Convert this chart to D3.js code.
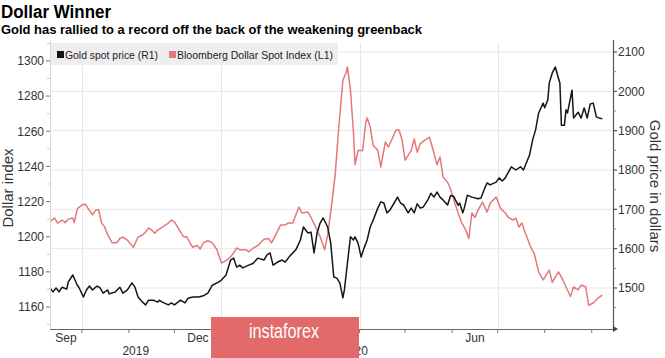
<!DOCTYPE html>
<html>
<head>
<meta charset="utf-8">
<script src="https://cdn.jsdelivr.net/npm/d3@7"></script>
<style>
  html, body { margin: 0; padding: 0; background: #fff; }
  svg { display: block; }
  text { font-family: "Liberation Sans", Arial, sans-serif; }
</style>
</head>
<body>
<svg id="chart" width="665" height="358"></svg>
<script>
// ---------------- DATA ----------------
const dollarDates = ["2019-09-10","2019-09-13","2019-09-15","2019-09-18","2019-09-20","2019-09-22","2019-09-25","2019-09-26","2019-09-28",
"2019-10-01","2019-10-03","2019-10-06","2019-10-08","2019-10-10","2019-10-12","2019-10-14","2019-10-16","2019-10-18","2019-10-21","2019-10-24","2019-10-26","2019-10-28","2019-10-31",
"2019-11-04","2019-11-07","2019-11-10","2019-11-12","2019-11-14","2019-11-16","2019-11-18","2019-11-20","2019-11-23","2019-11-27","2019-11-29",
"2019-12-01","2019-12-05","2019-12-07","2019-12-09","2019-12-13","2019-12-16","2019-12-18","2019-12-20","2019-12-23","2019-12-26","2019-12-29",
"2020-01-01","2020-01-05","2020-01-07","2020-01-09","2020-01-11","2020-01-13","2020-01-17","2020-01-19","2020-01-22","2020-01-25","2020-01-29",
"2020-02-01","2020-02-03","2020-02-05","2020-02-09","2020-02-12","2020-02-14","2020-02-17","2020-02-21","2020-02-23","2020-02-27","2020-02-29",
"2020-03-03","2020-03-06","2020-03-09","2020-03-11","2020-03-14","2020-03-16","2020-03-18","2020-03-21","2020-03-23","2020-03-24","2020-03-26","2020-03-28","2020-03-29","2020-03-31",
"2020-04-03","2020-04-05","2020-04-06","2020-04-08","2020-04-10","2020-04-13","2020-04-15","2020-04-18","2020-04-20","2020-04-23","2020-04-25","2020-04-27","2020-04-29",
"2020-05-01","2020-05-05","2020-05-07","2020-05-09","2020-05-11","2020-05-14","2020-05-17","2020-05-20","2020-05-22","2020-05-24","2020-05-26","2020-05-29","2020-05-31",
"2020-06-03","2020-06-07","2020-06-10","2020-06-12","2020-06-14","2020-06-16","2020-06-18","2020-06-21","2020-06-24","2020-06-26","2020-06-30",
"2020-07-03","2020-07-06","2020-07-08","2020-07-11","2020-07-13","2020-07-15","2020-07-17","2020-07-19","2020-07-23","2020-07-25","2020-07-28","2020-07-31",
"2020-08-04","2020-08-06","2020-08-10","2020-08-13","2020-08-16","2020-08-18","2020-08-20","2020-08-23","2020-08-25","2020-08-28","2020-08-30",
"2020-09-02","2020-09-05","2020-09-08"];
const dollarValues = [1208.5,1210.6,1207.8,1209.5,1208,1210,1210.6,1208,1216,
1218,1218.6,1215,1212.5,1215,1215.5,1207.8,1205.6,1201,1196.5,1196.5,1199,1199.8,1198,
1194,1199.8,1201,1202.7,1205,1203.8,1202,1203.8,1205.5,1207.8,1209.5,
1208.4,1202.7,1200,1200,1194,1195,1193,1196.5,1197.7,1196.5,1192.6,
1185,1187,1188.6,1190.7,1193.6,1192.6,1192.6,1191.4,1193.6,1195,1198.6,
1199,1196.5,1199.8,1206.7,1206.7,1207.8,1207.8,1216.9,1213.5,1214,1211,
1205.5,1200,1192.6,1201,1221,1236,1259,1289,1293,1296.6,1283.5,1259,1241,1249,
1249,1264.7,1267.6,1262.5,1252,1249,1239.7,1254,1251,1256.7,1260.7,1260.7,1255,
1243.6,1249,1255.6,1248,1253,1255,1256.7,1247.6,1241,1245.4,1234,1231,1227,
1218.5,1208.5,1203.8,1199,1213.5,1211,1215,1219.7,1214,1219,1222.6,
1216,1213.5,1211,1209.5,1210.6,1205.5,1207.8,1202.7,1193.6,1190.7,1180,1175.4,
1181,1174,1180,1175.4,1169.7,1166,1171.4,1169.7,1172.5,1171.4,1161,
1162.3,1165,1166.8];

const goldDates = ["2019-09-10","2019-09-12","2019-09-14","2019-09-16","2019-09-18","2019-09-21","2019-09-22","2019-09-25","2019-09-28","2019-09-29",
"2019-10-02","2019-10-04","2019-10-06","2019-10-08","2019-10-11","2019-10-13","2019-10-15","2019-10-18","2019-10-19","2019-10-23","2019-10-26","2019-10-28","2019-10-31",
"2019-11-03","2019-11-05","2019-11-07","2019-11-10","2019-11-12","2019-11-14","2019-11-17","2019-11-20","2019-11-21","2019-11-23","2019-11-27","2019-11-29",
"2019-12-01","2019-12-05","2019-12-08","2019-12-10","2019-12-13","2019-12-17","2019-12-20","2019-12-23","2019-12-26","2019-12-30",
"2020-01-01","2020-01-04","2020-01-07","2020-01-09","2020-01-11","2020-01-13","2020-01-15","2020-01-19","2020-01-22","2020-01-25","2020-01-29","2020-01-31",
"2020-02-02","2020-02-04","2020-02-07","2020-02-10","2020-02-12","2020-02-15","2020-02-19","2020-02-22","2020-02-24","2020-02-27","2020-02-29",
"2020-03-02","2020-03-04","2020-03-06","2020-03-08","2020-03-11","2020-03-13","2020-03-15","2020-03-17","2020-03-19","2020-03-21","2020-03-22","2020-03-24","2020-03-26","2020-03-28","2020-03-29","2020-03-31",
"2020-04-02","2020-04-04","2020-04-06","2020-04-08","2020-04-10","2020-04-13","2020-04-15","2020-04-17","2020-04-19","2020-04-21","2020-04-23","2020-04-26","2020-04-28","2020-04-30",
"2020-05-03","2020-05-05","2020-05-07","2020-05-09","2020-05-11","2020-05-13","2020-05-16","2020-05-18","2020-05-20","2020-05-22","2020-05-24","2020-05-26","2020-05-29","2020-05-31",
"2020-06-02","2020-06-05","2020-06-06","2020-06-08","2020-06-09","2020-06-11","2020-06-14","2020-06-18","2020-06-20","2020-06-22","2020-06-24","2020-06-26","2020-06-30",
"2020-07-02","2020-07-04","2020-07-06","2020-07-10","2020-07-13","2020-07-16","2020-07-18","2020-07-22","2020-07-24","2020-07-26","2020-07-28","2020-07-31",
"2020-08-01","2020-08-03","2020-08-04","2020-08-06","2020-08-08","2020-08-10","2020-08-11","2020-08-12","2020-08-14","2020-08-15","2020-08-16","2020-08-19","2020-08-20","2020-08-23","2020-08-25","2020-08-27","2020-08-29","2020-08-31",
"2020-09-02","2020-09-04","2020-09-06","2020-09-08"];
const goldValues = [1500,1490,1500,1490,1502,1497,1515,1533,1507,1502,
1477,1495,1505,1495,1505,1500,1487,1495,1485,1490,1502,1487,1495,
1513,1502,1477,1464,1457,1469,1469,1464,1469,1464,1457,1462,
1457,1469,1462,1474,1477,1477,1480,1487,1507,1515,
1520,1533,1571,1576,1553,1558,1551,1558,1563,1576,1571,1584,
1589,1558,1566,1571,1566,1581,1597,1622,1655,1640,1642,
1589,1640,1665,1678,1655,1614,1528,1525,1513,1475,1495,1563,1630,1622,1630,1614,
1579,1602,1622,1655,1673,1703,1719,1716,1691,1698,1711,1731,1716,1711,
1691,1703,1691,1714,1703,1706,1724,1741,1731,1744,1731,1724,1711,1735,
1733,1710,1716,1691,1703,1736,1731,1727,1729,1749,1767,1762,1769,
1780,1772,1780,1808,1800,1808,1800,1838,1876,1902,1945,1970,
1958,1978,2021,2047,2062,2034,2021,1914,1914,1953,1945,2003,1932,1947,1932,1958,1932,1968,
1970,1935,1932,1930];

const leftTicks = [1160, 1180, 1200, 1220, 1240, 1260, 1280, 1300];
const rightTicks = [1500, 1600, 1700, 1800, 1900, 2000, 2100];
// "Mar" sits under the watermark in the reference, so only visible month labels are listed
const monthLabels = ["Sep", "Dec", "Jun"];
const monthLabelStarts = ["2019-09-01", "2019-12-01", "2020-06-01"];
const yearLabels = ["2019", "2020"];
const yearStarts = ["2019-01-01", "2020-01-01"];
const seriesNames = ["Gold spot price (R1)", "Bloomberg Dollar Spot Index (L1)"];

// ---------------- LAYOUT ----------------
const parse = d3.utcParse("%Y-%m-%d");
const W = 665, H = 358;
const plot = { left: 50, right: 613, top: 43, bottom: 329 };
const pink = "#e5787a", black = "#151515";

const svg = d3.select("#chart");

const x = d3.scaleUtc()
  .domain([parse("2019-09-10"), parse("2020-09-15")])
  .range([plot.left, plot.right]);
const yL = d3.scaleLinear().domain([1147.5, 1310.2]).range([plot.bottom, plot.top]);
const yR = d3.scaleLinear().domain([1395.7, 2122.9]).range([plot.bottom, plot.top]);

// Titles
svg.append("text").attr("x", 1).attr("y", 18)
  .attr("font-size", 18).attr("font-weight", "bold").attr("fill", "#000")
  .attr("textLength", 110).attr("lengthAdjust", "spacingAndGlyphs")
  .text("Dollar Winner");
svg.append("text").attr("x", 1).attr("y", 34)
  .attr("font-size", 13).attr("font-weight", "bold").attr("fill", "#000")
  .attr("textLength", 421).attr("lengthAdjust", "spacingAndGlyphs")
  .text("Gold has rallied to a record off the back of the weakening greenback");

// Horizontal gridlines (right axis)
svg.append("g").selectAll("line").data(rightTicks).join("line")
  .attr("x1", plot.left).attr("x2", plot.right)
  .attr("y1", d => yR(d)).attr("y2", d => yR(d))
  .attr("stroke", "#e9e6ea").attr("stroke-width", 1);

// Vertical gridlines at quarter starts
const quarterStarts = d3.utcMonth.every(3).range(parse("2019-10-01"), x.domain()[1]);
svg.append("g").selectAll("line").data(quarterStarts).join("line")
  .attr("x1", d => Math.round(x(d)) + 0.5).attr("x2", d => Math.round(x(d)) + 0.5)
  .attr("y1", plot.top).attr("y2", plot.bottom)
  .attr("stroke", "#e9e6ea").attr("stroke-width", 1);

// Legend box
const legend = svg.append("g");
legend.append("rect").attr("x", plot.left).attr("y", plot.top)
  .attr("width", 288).attr("height", 22).attr("fill", "#efeeef");
const legendItems = [
  { name: seriesNames[0], color: black, x: 57, w: 93 },
  { name: seriesNames[1], color: pink, x: 169, w: 156 }
];
legendItems.forEach(it => {
  legend.append("rect").attr("x", it.x).attr("y", 51).attr("width", 7).attr("height", 7).attr("fill", it.color);
  legend.append("text").attr("x", it.x + 8).attr("y", 58.5)
    .attr("font-size", 11).attr("fill", "#222")
    .attr("textLength", it.w).attr("lengthAdjust", "spacingAndGlyphs")
    .text(it.name);
});

// Lines
const dollarData = dollarDates.map((d, i) => ({ date: parse(d), v: dollarValues[i] }));
const goldData = goldDates.map((d, i) => ({ date: parse(d), v: goldValues[i] }));

svg.append("path").datum(dollarData)
  .attr("fill", "none").attr("stroke", pink).attr("stroke-width", 1.5)
  .attr("stroke-linejoin", "round")
  .attr("d", d3.line().x(d => x(d.date)).y(d => yL(d.v)));
svg.append("path").datum(goldData)
  .attr("fill", "none").attr("stroke", black).attr("stroke-width", 1.5)
  .attr("stroke-linejoin", "round")
  .attr("d", d3.line().x(d => x(d.date)).y(d => yR(d.v)));

// Left axis
const gL = svg.append("g").attr("transform", `translate(${plot.left},0)`);
gL.append("line").attr("x1", 0.5).attr("x2", 0.5).attr("y1", plot.top - 3).attr("y2", plot.bottom)
  .attr("stroke", "#dcd6da");
gL.selectAll("line.minor").data(d3.range(1150, 1311, 10).filter(v => v % 20 !== 0)).join("line")
  .attr("class", "minor").attr("x1", -3).attr("x2", 0)
  .attr("y1", d => yL(d)).attr("y2", d => yL(d)).attr("stroke", "#d8c8cc");
gL.selectAll("line.major").data(leftTicks).join("line")
  .attr("class", "major").attr("x1", -4).attr("x2", 0)
  .attr("y1", d => yL(d)).attr("y2", d => yL(d)).attr("stroke", "#e06a6a").attr("stroke-width", 1.2);
gL.selectAll("text").data(leftTicks).join("text")
  .attr("x", -6).attr("y", d => yL(d)).attr("dy", "0.36em")
  .attr("text-anchor", "end").attr("font-size", 12).attr("fill", "#333")
  .text(d => d);

// Right axis
const gR = svg.append("g").attr("transform", `translate(${plot.right},0)`);
gR.append("line").attr("x1", 0.5).attr("x2", 0.5).attr("y1", plot.top - 3).attr("y2", plot.bottom)
  .attr("stroke", "#555").attr("stroke-width", 1.2);
gR.selectAll("line.minor").data(d3.range(1450, 2101, 50).filter(v => v % 100 !== 0)).join("line")
  .attr("class", "minor").attr("x1", 0).attr("x2", 3)
  .attr("y1", d => yR(d)).attr("y2", d => yR(d)).attr("stroke", "#888");
gR.selectAll("line.major").data(rightTicks).join("line")
  .attr("class", "major").attr("x1", 0).attr("x2", 4)
  .attr("y1", d => yR(d)).attr("y2", d => yR(d)).attr("stroke", "#555").attr("stroke-width", 1.2);
gR.selectAll("text").data(rightTicks).join("text")
  .attr("x", 5).attr("y", d => yR(d)).attr("dy", "0.36em")
  .attr("text-anchor", "start").attr("font-size", 12).attr("fill", "#333")
  .text(d => d);
gR.append("path").attr("d", `M0,${plot.bottom - 3}L5,${plot.bottom}L0,${plot.bottom + 3}Z`).attr("fill", "#444");

// Axis titles
svg.append("text")
  .attr("transform", `translate(13,${(plot.top + plot.bottom) / 2 + 2}) rotate(-90)`)
  .attr("text-anchor", "middle").attr("font-size", 15).attr("fill", "#333")
  .text("Dollar index");
svg.append("text")
  .attr("transform", `translate(650,${(plot.top + plot.bottom) / 2}) rotate(90)`)
  .attr("text-anchor", "middle").attr("font-size", 15).attr("fill", "#333")
  .text("Gold price in dollars");

// Bottom axis
const gX = svg.append("g");
gX.append("line").attr("x1", plot.left).attr("x2", plot.right)
  .attr("y1", plot.bottom + 0.5).attr("y2", plot.bottom + 0.5).attr("stroke", "#666").attr("stroke-width", 1.2);
const monthTicks = d3.utcMonth.range(parse("2019-10-01"), x.domain()[1]);
gX.selectAll("line.tick").data(monthTicks).join("line")
  .attr("class", "tick")
  .attr("x1", d => x(d)).attr("x2", d => x(d))
  .attr("y1", plot.bottom).attr("y2", plot.bottom + 4).attr("stroke", "#777");
const [d0, d1] = x.domain();
gX.selectAll("text.month").data(monthLabels).join("text")
  .attr("class", "month")
  .attr("x", (m, i) => {
    const s = parse(monthLabelStarts[i]);
    const e = d3.utcMonth.offset(s, 1);
    return (x(s < d0 ? d0 : s) + x(e > d1 ? d1 : e)) / 2;
  })
  .attr("y", 342).attr("text-anchor", "middle").attr("font-size", 12).attr("fill", "#333")
  .text(m => m);
gX.selectAll("text.year").data(yearLabels).join("text")
  .attr("class", "year")
  .attr("x", (yl, i) => {
    const s = parse(yearStarts[i]);
    const e = d3.utcMonth.offset(s, i === 0 ? 12 : 6);
    return (x(s < d0 ? d0 : s) + x(e > d1 ? d1 : e)) / 2 - (i === 0 ? 0 : 5);
  })
  .attr("y", 355).attr("text-anchor", "middle").attr("font-size", 12).attr("fill", "#333")
  .text(yl => yl);
gX.append("line")
  .attr("x1", Math.round(x(parse("2020-01-01"))) + 0.5).attr("x2", Math.round(x(parse("2020-01-01"))) + 0.5)
  .attr("y1", plot.bottom + 5).attr("y2", H).attr("stroke", "#ddd");

// Watermark overlay
const wm = svg.append("g");
wm.append("rect").attr("x", 211).attr("y", 317).attr("width", 148).attr("height", 41).attr("fill", "#e26a6a");
wm.append("text").attr("x", 284).attr("y", 338).attr("text-anchor", "middle")
  .attr("font-size", 20).attr("fill", "#fff")
  .attr("textLength", 70).attr("lengthAdjust", "spacingAndGlyphs")
  .text("instaforex");
</script>
</body>
</html>
